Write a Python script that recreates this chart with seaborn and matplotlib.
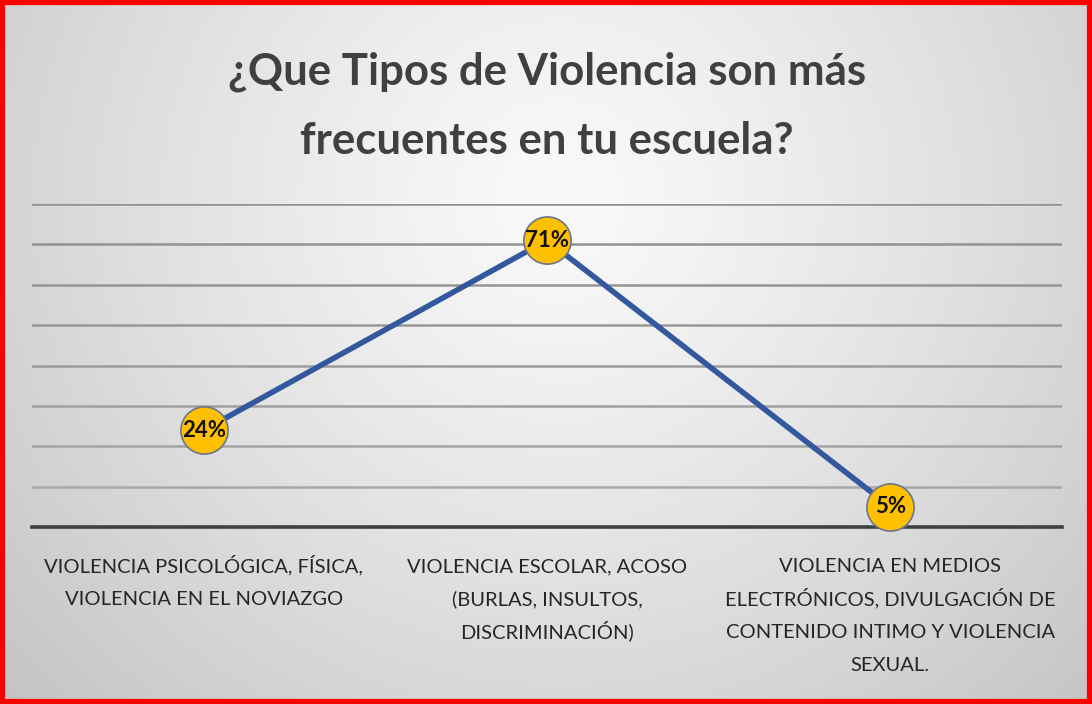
import numpy as np
import pandas as pd
import matplotlib
matplotlib.use("Agg")
import matplotlib.pyplot as plt
import seaborn as sns

categories = [
    "VIOLENCIA PSICOLÓGICA, FÍSICA,\nVIOLENCIA EN EL NOVIAZGO",
    "VIOLENCIA ESCOLAR, ACOSO\n(BURLAS, INSULTOS,\nDISCRIMINACIÓN)",
    "VIOLENCIA EN MEDIOS\nELECTRÓNICOS, DIVULGACIÓN DE\nCONTENIDO INTIMO Y VIOLENCIA\nSEXUAL.",
]
values = [24, 71, 5]
labels = ["24%", "71%", "5%"]
title_lines = ["¿Que Tipos de Violencia son más", "frecuentes en tu escuela?"]

sns.set_theme(style="white")
plt.rcParams['font.family'] = ['Lato', 'DejaVu Sans']

fig = plt.figure(figsize=(10.92, 7.04), dpi=100)
H, W = 704, 1092

# background radial gradient
bg = fig.add_axes([0, 0, 1, 1], zorder=-10)
yy, xx = np.mgrid[0:H, 0:W]
cx, cy = 560, 200
d = np.sqrt(((xx - cx) / 720.0) ** 2 + ((yy - cy) / 700.0) ** 2)
val = 0.98 - 0.2 * np.clip(d, 0, 1.2) ** 1.2
img = np.dstack([val, val, val])
bg.imshow(img, aspect="auto", extent=[0, 1, 0, 1], interpolation="bilinear")
bg.set_xlim(0, 1); bg.set_ylim(0, 1)
bg.axis("off")
bg.add_patch(plt.Rectangle((0.002, 0.003), 0.996, 0.994, fill=False,
                           edgecolor="#ff0000", linewidth=4.5, transform=bg.transAxes))

ax = fig.add_axes([0.0293, 0.2514, 0.9432, 0.4588])
ax.patch.set_alpha(0)
df = pd.DataFrame({"cat": categories, "val": values})
sns.lineplot(data=df, x="cat", y="val", ax=ax, color="#34589e", linewidth=4,
             sort=False, zorder=3)
ax.plot(range(len(values)), values, linestyle="none", marker="o", markersize=34,
        markerfacecolor="#ffc000", markeredgecolor="#6b7590", markeredgewidth=1.2,
        zorder=4, clip_on=False)
for i, (v, lab) in enumerate(zip(values, labels)):
    ax.text(i, v, lab, ha="center", va="center", fontsize=16, fontweight="bold",
            color="#111111", zorder=5)

ax.set_xlim(-0.5, 2.5)
ax.set_ylim(0, 80)
ax.set_yticks(np.arange(10, 81, 10))
ax.yaxis.grid(True)
grid_cols = ["#a8a8a8", "#a4a4a4", "#a0a0a0", "#9c9c9c", "#989898", "#959595", "#929292", "#909090"]
for gl, c in zip(ax.get_ygridlines(), grid_cols):
    gl.set_color(c)
    gl.set_linewidth(1.8)
ax.xaxis.grid(False)
ax.set_yticklabels([])
ax.tick_params(axis="y", length=0)
for s in ["top", "right", "left"]:
    ax.spines[s].set_visible(False)
ax.spines["bottom"].set_color("#404040")
ax.spines["bottom"].set_linewidth(2.6)
ax.set_xlabel(""); ax.set_ylabel("")
ax.tick_params(axis="x", length=0)
ax.set_xticks(range(len(categories)))
ax.set_xticklabels([""] * len(categories))

# category labels, one line at a time for even line pitch
for i, cat in enumerate(categories):
    for k, line in enumerate(cat.split("\n")):
        ax.annotate(line, xy=(i, 0), xycoords=("data", "axes fraction"),
                    xytext=(0, -45 - 33 * k), textcoords="offset pixels",
                    ha="center", va="baseline", fontsize=14.5, color="#262626",
                    annotation_clip=False)

for k, (line, yb) in enumerate(zip(title_lines, [84, 154])):
    fig.text(0.501, 1 - yb / H, line, ha="center", va="baseline", fontsize=31.5,
             fontweight="bold", color="#404040")

fig.savefig("out.png", dpi=100)
